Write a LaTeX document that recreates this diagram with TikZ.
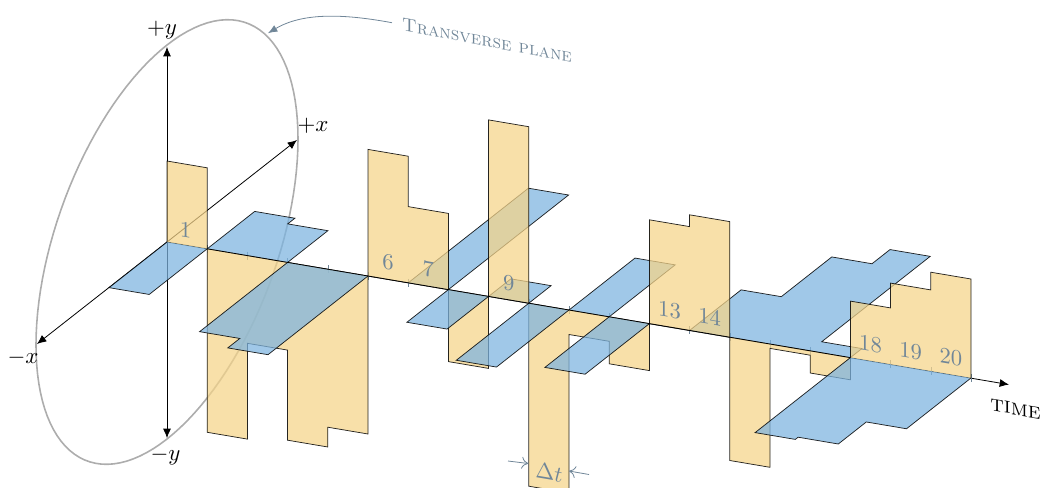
\documentclass[tikz,border=0pt]{standalone}
\usetikzlibrary{arrows.meta}
\definecolor{pulseY}{RGB}{245,212,137}
\definecolor{pulseB}{RGB}{125,180,224}
\definecolor{noteC}{RGB}{112,134,152}
\def\Y#1#2{({167+40.2*(#1)},{242+6.8*(#1)-(#2)})}
\def\B#1#2{({167+40.2*(#1)+(#2)},{242+6.8*(#1)-.787*(#2)})}
\tikzset{
  yfill/.style={fill=pulseY,fill opacity=.73,draw=black,draw opacity=.85,line width=.55pt,line join=miter},
  bfill/.style={fill=pulseB,fill opacity=.73,draw=black,draw opacity=.85,line width=.55pt,line join=miter},
  axisline/.style={draw=black,line width=.6pt,-{Latex[length=7pt,width=6pt]}},
  ticka/.style={draw=noteC,line width=.4pt},
  tlabel/.style={text=noteC,scale=1.7,yslant=-.169,inner sep=0pt},
  axlabel/.style={text=black,scale=1.72,inner sep=0pt},
  notearrow/.style={draw=noteC,line width=.6pt},
}
\begin{document}
\begin{tikzpicture}[x=.75pt,y=-.75pt]
\clip (0,0) rectangle (1040,487);
% transverse plane
\draw[draw=black!32,line width=1.2pt] plot[domain=0:360,samples=121] ({167+131*cos(\x)},{242-103*cos(\x)-197*sin(\x)}) -- cycle;
% axes
\coordinate (o) at (167,242);
\coordinate (yp) at (167,47);
\coordinate (ym) at (167,438);
\coordinate (xp) at (297,140);
\coordinate (xm) at (37,344);
\coordinate (tend) at (1009,384.6);
\draw[axisline] (o) -- (yp);
\draw[axisline] (o) -- (ym);
\draw[axisline] (o) -- (xp);
\draw[axisline] (o) -- (xm);
\draw[axisline] (o) -- (tend);
\foreach \i in {1,...,20}{
  \draw[ticka] ({167+40.2*\i},{242+6.8*\i-4}) -- ({167+40.2*\i},{242+6.8*\i+4});
}
% x-plane, part behind
\path[bfill] \B{1}{0} -- \B{1}{47.5} -- \B{2}{47.5} -- \B{2}{40.3} -- \B{3}{40.3} -- \B{3}{0};
\path[bfill] \B{6}{0} -- \B{6}{120.2} -- \B{7}{120.2} -- \B{7}{0};
\path[bfill] \B{8}{0} -- \B{8}{22.3} -- \B{9}{22.3} -- \B{9}{0};
\path[bfill] \B{10}{0} -- \B{10}{66} -- \B{11}{66} -- \B{11}{0};
\path[bfill] \B{13}{0} -- \B{13}{51.5} -- \B{14}{51.5} -- \B{14}{102} -- \B{15}{102} -- \B{15}{120} -- \B{16}{120} -- \B{16}{11.5} -- \B{17}{11.5} -- \B{17}{0};
% y-plane
\path[yfill] \Y{0}{0} -- \Y{0}{81} -- \Y{1}{81} -- \Y{1}{-183.5} -- \Y{2}{-183.5} -- \Y{2}{-87.7} -- \Y{3}{-87.7} -- \Y{3}{-177.8} -- \Y{4}{-177.8} -- \Y{4}{-158} -- \Y{5}{-158} -- \Y{5}{126.6} -- \Y{6}{126.6} -- \Y{6}{76.2} -- \Y{7}{76.2} -- \Y{7}{-72} -- \Y{8}{-72} -- \Y{8}{176.5} -- \Y{9}{176.5} -- \Y{9}{-183} -- \Y{10}{-183} -- \Y{10}{-24.5} -- \Y{11}{-24.5} -- \Y{11}{-47} -- \Y{12}{-47} -- \Y{12}{103.8} -- \Y{13}{103.8} -- \Y{13}{115.6} -- \Y{14}{115.6} -- \Y{14}{-123.3} -- \Y{15}{-123.3} -- \Y{15}{-4.4} -- \Y{16}{-4.4} -- \Y{16}{-22.2} -- \Y{17}{-22.2} -- \Y{17}{56.5} -- \Y{18}{56.5} -- \Y{18}{81.3} -- \Y{19}{81.3} -- \Y{19}{99} -- \Y{20}{99} -- \Y{20}{0};
% x-plane, part in front
\path[bfill] \B{0}{0} -- \B{0}{-58} -- \B{1}{-58} -- \B{1}{0};
\path[bfill] \B{3}{0} -- \B{3}{-88} -- \B{4}{-88} -- \B{4}{-100} -- \B{5}{-100} -- \B{5}{0};
\path[bfill] \B{7}{0} -- \B{7}{-41.5} -- \B{8}{-41.5} -- \B{8}{0};
\path[bfill] \B{9}{0} -- \B{9}{-72.5} -- \B{10}{-72.5} -- \B{10}{0};
\path[bfill] \B{11}{0} -- \B{11}{-64.3} -- \B{12}{-64.3} -- \B{12}{0};
\path[bfill] \B{17}{0} -- \B{17}{-95.3} -- \B{18}{-95.3} -- \B{18}{-92.5} -- \B{19}{-92.5} -- \B{19}{-64.5} -- \B{20}{-64.5} -- \B{20}{0};
% axis segment on top
\draw[draw=black,line width=.6pt] \Y{1}{0} -- \Y{17}{0};
% interval numbers
\node[tlabel] (n1) at (185.5,229.5) {1};
\foreach \i in {6,7,9,13,14,18,19,20}{
  \node[tlabel] (n\i) at ({167+40.2*(\i-.5)},{242+6.8*(\i-.5)-17}) {\i};
}
% axis labels
\node[axlabel] (lyp) at (162,30) {$+y$};
\node[axlabel] (lym) at (165.5,456) {$-y$};
\node[axlabel] (lxp) at (313,126) {$+x$};
\node[axlabel] (lxm) at (23,357.5) {$-x$};
\node[text=black,scale=1.72,yslant=-.169,inner sep=0pt] (ltime) at (1015.5,409) {\textsc{time}};
% note
\node[text=noteC,scale=1.4,yslant=-.19,inner sep=0pt] (tp) at (487,40.5) {\textsc{Transverse plane}};
\coordinate (ts) at (392,22.7);
\coordinate (te) at (268,33.2);
\draw[notearrow,-{Latex[length=7pt,width=5.5pt]}] (ts) .. controls (350,15) and (305,11) .. (te);
% pulse width
\node[tlabel] (dt) at (549,472.5) {$\Delta t$};
\coordinate (dl) at (508,461);
\coordinate (dlt) at (528.3,463.5);
\coordinate (dr) at (589,474.5);
\coordinate (drt) at (569,471);
\draw[notearrow,-{To[length=5pt,width=9pt]}] (dl) -- (dlt);
\draw[notearrow,-{To[length=5pt,width=9pt]}] (dr) -- (drt);
\end{tikzpicture}
\end{document}
